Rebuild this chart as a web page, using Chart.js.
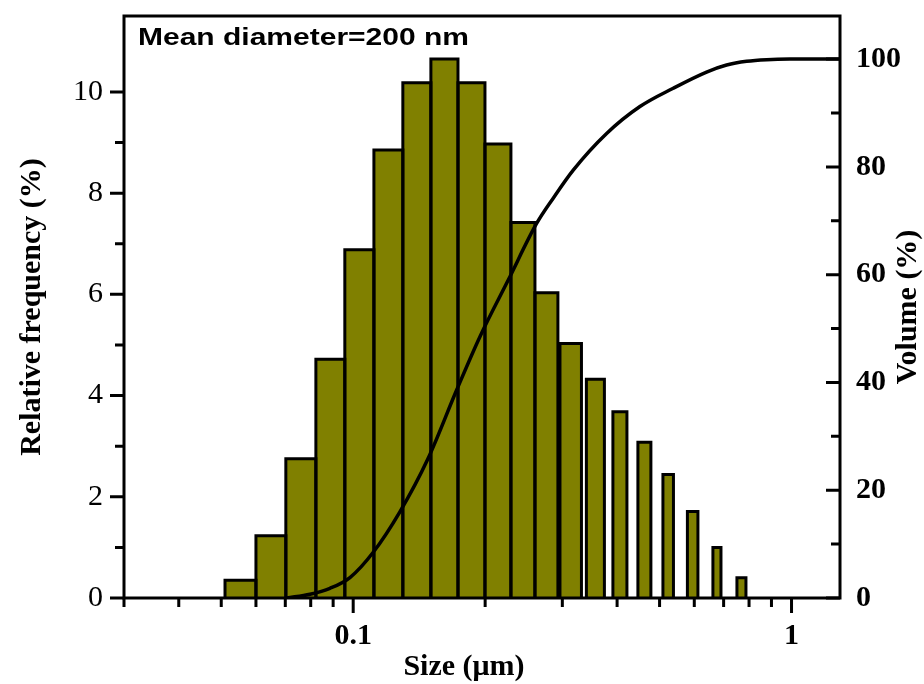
<!DOCTYPE html>
<html>
<head>
<meta charset="utf-8">
<script src="https://cdn.jsdelivr.net/npm/chart.js@4.4.0/dist/chart.umd.min.js"></script>
<style>
    html, body { margin: 0; padding: 0; background: #fff; }
    #wrap { width: 924px; height: 684px; position: relative; }
</style>
</head>
<body>
<div id="wrap"><canvas id="psd-chart"></canvas></div>
<script>
// histogram bins, size in µm (edges)
const binLo = [0.051, 0.060, 0.0702, 0.0822, 0.0957, 0.1115, 0.1298, 0.1504, 0.1734, 0.1998,
               0.229, 0.2598, 0.2963, 0.3404, 0.3913, 0.4462, 0.5089, 0.5787, 0.6617, 0.7507];
const binHi = [0.060, 0.0702, 0.0822, 0.0957, 0.1115, 0.1298, 0.1504, 0.1734, 0.1998, 0.229,
               0.2598, 0.2931, 0.3317, 0.3742, 0.4212, 0.4777, 0.5378, 0.6116, 0.6903, 0.7871];
const freq = [0.35, 1.23, 2.75, 4.72, 6.88, 8.85, 10.18, 10.65, 10.18, 8.97,
              7.42, 6.03, 5.03, 4.32, 3.68, 3.08, 2.44, 1.71, 1.00, 0.40];

// cumulative volume curve
const curveSize = [0.0706, 0.0797, 0.0885, 0.0983, 0.1111, 0.1278, 0.148, 0.1722, 0.1946, 0.2258,
                   0.2621, 0.286, 0.3177, 0.3786, 0.451, 0.5372, 0.64, 0.711, 0.79, 0.8774, 0.9917, 1.29];
const curveVolume = [0, 0.7, 1.8, 3.8, 8.5, 16, 25.8, 38.6, 48.5, 59,
                     69.5, 74.2, 79.4, 86.2, 91.2, 94.6, 97.6, 98.9, 99.6, 99.9, 100, 100];

const xTicks = [0.03, 0.04, 0.05, 0.06, 0.07, 0.08, 0.09, 0.1, 0.2, 0.3, 0.4, 0.5, 0.6, 0.7, 0.8, 0.9, 1];
const xMajor = [0.1, 1];

const SERIF = 'Liberation Serif';
const near = (a, b) => Math.abs(a - b) < 1e-9;
const isMajorX = v => xMajor.some(m => near(m, v));

// each bin is drawn as a filled outline through the scales
const barSets = freq.map((h, i) => ({
    data: [
        { x: binLo[i], y: 0 }, { x: binLo[i], y: h },
        { x: binHi[i], y: h }, { x: binHi[i], y: 0 }
    ],
    yAxisID: 'y',
    borderColor: '#000',
    borderWidth: 3,
    borderJoinStyle: 'miter',
    backgroundColor: '#808000',
    fill: 'origin',
    pointRadius: 0,
    tension: 0
}));

const volumeSet = {
    data: curveSize.map((x, i) => ({ x, y: curveVolume[i] })),
    yAxisID: 'y2',
    borderColor: '#000',
    borderWidth: 3.5,
    fill: false,
    pointRadius: 0,
    cubicInterpolationMode: 'monotone'
};

// no extra room for half tick labels, the frame sits where we put it
const noPad = s => { s.paddingTop = 0; s.paddingBottom = 0; s.paddingLeft = 0; s.paddingRight = 0; };

const frameAndTicks = {
    id: 'frameAndTicks',
    afterDraw(chart) {
        const { ctx, chartArea: a, scales } = chart;
        ctx.save();
        ctx.strokeStyle = '#000';
        ctx.lineWidth = 3;
        ctx.strokeRect(a.left, a.top, a.right - a.left, a.bottom - a.top);

        ctx.beginPath();
        scales.x.ticks.forEach(t => {
            const px = scales.x.getPixelForValue(t.value);
            const len = isMajorX(t.value) ? 15 : 9;
            ctx.moveTo(px, a.bottom); ctx.lineTo(px, a.bottom + len);
        });
        scales.y.ticks.forEach(t => {
            if (!Number.isInteger(t.value)) return;
            const py = scales.y.getPixelForValue(t.value);
            const len = t.value % 2 === 0 ? 14 : 9;
            ctx.moveTo(a.left - len, py); ctx.lineTo(a.left, py);
        });
        scales.y2.ticks.forEach(t => {
            if (t.value % 10 !== 0) return;
            const py = scales.y2.getPixelForValue(t.value);
            const len = t.value % 20 === 0 ? 14 : 9;
            ctx.moveTo(a.right - len, py); ctx.lineTo(a.right, py);
        });
        ctx.stroke();

        ctx.fillStyle = '#000';
        ctx.font = 'bold 30px "' + SERIF + '"';

        // x title
        ctx.textAlign = 'center';
        ctx.textBaseline = 'alphabetic';
        ctx.fillText('Size (\u03bcm)', 464, 675);

        // right title, reads bottom to top
        ctx.save();
        ctx.translate(908, (a.top + a.bottom) / 2);
        ctx.rotate(-Math.PI / 2);
        ctx.textBaseline = 'middle';
        ctx.fillText('Volume (%)', 0, 0);
        ctx.restore();

        // annotation
        ctx.save();
        ctx.translate(138, 45);
        ctx.scale(1.25, 1);
        ctx.textAlign = 'left';
        ctx.font = 'bold 24px "Liberation Sans"';
        ctx.fillText('Mean diameter=200 nm', 0, 0);
        ctx.restore();

        ctx.restore();
    }
};

new Chart(document.getElementById('psd-chart'), {
    type: 'line',
    data: { datasets: [volumeSet, ...barSets] },
    options: {
        responsive: true,
        maintainAspectRatio: false,
        animation: false,
        layout: { padding: { top: 16, left: 0, right: 0, bottom: 0 } },
        plugins: {
            legend: { display: false },
            tooltip: { enabled: false },
            filler: { drawTime: 'beforeDatasetsDraw' }
        },
        scales: {
            x: {
                type: 'logarithmic',
                min: 0.03,
                max: 1.29,
                grid: { display: false, drawTicks: false },
                border: { display: false },
                afterBuildTicks: s => { s.ticks = xTicks.map(v => ({ value: v })); },
                afterFit: s => { s.height = 86; noPad(s); },
                ticks: {
                    autoSkip: false,
                    maxRotation: 0,
                    padding: 20,
                    color: '#000',
                    font: { family: SERIF, size: 30, weight: 'bold' },
                    callback: v => (near(v, 0.1) ? '0.1' : near(v, 1) ? '1' : '')
                }
            },
            y: {
                position: 'left',
                min: 0,
                max: 11.5,
                grid: { display: false, drawTicks: false },
                border: { display: false },
                afterFit: s => { s.width = 124; noPad(s); },
                ticks: {
                    stepSize: 1,
                    padding: 21,
                    color: '#000',
                    font: { family: SERIF, size: 30 },
                    callback: v => (Number.isInteger(v) && v % 2 === 0 ? v : '')
                },
                title: {
                    display: true,
                    text: 'Relative frequency (%)',
                    color: '#000',
                    font: { family: SERIF, size: 30, weight: 'bold' },
                    padding: { top: 14, bottom: 0 }
                }
            },
            y2: {
                position: 'right',
                min: 0,
                max: 108,
                grid: { display: false, drawTicks: false },
                border: { display: false },
                afterFit: s => { s.width = 84; noPad(s); },
                ticks: {
                    stepSize: 10,
                    padding: 16,
                    color: '#000',
                    font: { family: SERIF, size: 30, weight: 'bold' },
                    callback: v => (v % 20 === 0 && v <= 100 ? v : '')
                }
            }
        }
    },
    plugins: [frameAndTicks]
});
</script>
</body>
</html>
